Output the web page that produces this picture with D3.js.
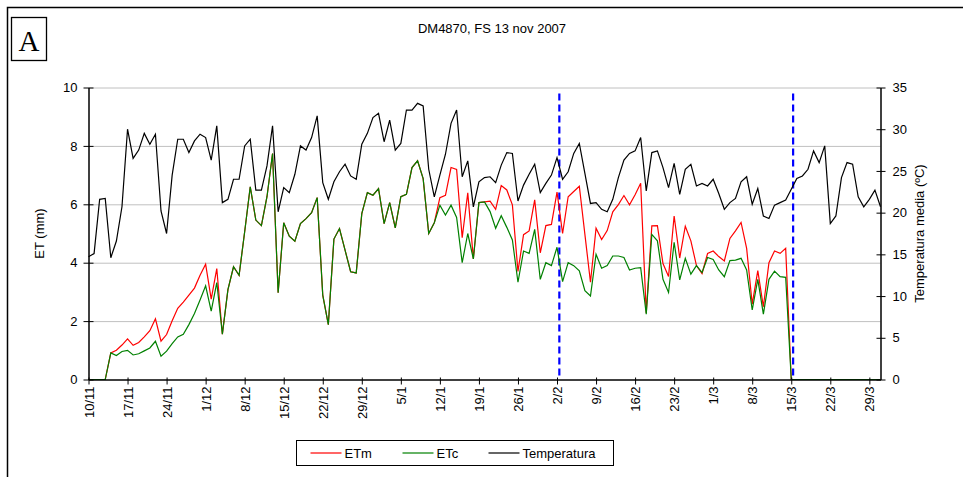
<html><head>
  <script src="https://d3js.org/d3.v7.min.js"></script>
  <style>
    body { margin: 0; background: #fff; }
    text { font-family: 'Liberation Sans', Arial, sans-serif; }
    .gridlines line { stroke: #c0c0c0; }
    .gridlines path { display: none; }
  </style>
</head>
<body>
  <script>
    // first day of the series, one value per day
    const startDate = new Date(Date.UTC(2007, 10, 10))
    const endDate = new Date(Date.UTC(2008, 2, 31))

    // ETm (mm)
    const etm = [0, 0, 0, 0, 0.91, 1.0, 1.18, 1.39, 1.17, 1.27, 1.46, 1.67, 2.08, 1.31, 1.54, 2.01, 2.44, 2.65, 2.89, 3.13,
      3.57, 3.95, 2.75, 3.80, 1.55, 3.08, 3.86, 3.57, 5.06, 6.60, 5.46, 5.27, 6.26, 7.74, 2.97, 5.37, 4.91, 4.74, 5.34, 5.51,
      5.71, 6.23, 2.89, 1.88, 4.81, 5.17, 4.43, 3.69, 3.65, 5.68, 6.40, 6.31, 6.54, 5.34, 6.06, 5.19, 6.26, 6.34, 7.26, 7.49,
      6.88, 5.00, 5.37, 6.23, 6.31, 7.26, 7.19, 4.86, 6.39, 4.13, 6.06, 6.08, 6.11, 5.83, 6.64, 6.49, 5.98, 3.70, 4.96, 5.09,
      6.15, 4.34, 5.27, 5.31, 6.42, 5.00, 6.26, 6.44, 6.62, 4.97, 3.33, 5.18, 4.79, 5.10, 5.74, 5.99, 6.30, 5.98, 6.33, 6.72,
      2.28, 5.26, 5.27, 3.97, 3.53, 5.60, 4.16, 5.25, 4.75, 3.90, 3.63, 4.32, 4.40, 4.21, 4.06, 4.83, 5.09, 5.38, 4.49, 2.58,
      3.73, 2.49, 4.00, 4.40, 4.32, 4.49, 0, 0, 0, 0, 0, 0, 0, 0, 0, 0, 0, 0, 0, 0, 0, 0, 0]

    // ETc (mm)
    const etc = [0, 0, 0, 0, 0.91, 0.82, 0.96, 1.0, 0.84, 0.88, 0.98, 1.08, 1.31, 0.80, 0.97, 1.23, 1.46, 1.55, 1.88, 2.26,
      2.72, 3.21, 2.34, 3.32, 1.55, 3.08, 3.86, 3.57, 5.06, 6.60, 5.46, 5.27, 6.26, 7.74, 2.97, 5.37, 4.91, 4.74, 5.34, 5.51,
      5.71, 6.23, 2.89, 1.88, 4.81, 5.17, 4.43, 3.69, 3.65, 5.68, 6.40, 6.31, 6.54, 5.34, 6.06, 5.19, 6.26, 6.34, 7.26, 7.49,
      6.88, 5.00, 5.37, 5.97, 5.63, 5.97, 5.55, 4.00, 5.00, 4.13, 6.06, 6.08, 5.75, 5.18, 5.61, 5.21, 4.78, 3.33, 4.40, 4.32,
      5.14, 3.43, 4.00, 3.90, 4.53, 3.35, 4.00, 3.90, 3.72, 3.04, 2.86, 4.29, 3.81, 3.90, 4.23, 4.23, 4.18, 3.75, 3.81, 3.83,
      2.24, 4.97, 4.75, 3.43, 2.98, 4.70, 3.41, 4.15, 3.61, 3.90, 3.66, 4.18, 4.11, 3.75, 3.52, 4.07, 4.09, 4.15, 3.75, 2.38,
      3.43, 2.24, 3.43, 3.71, 3.52, 3.50, 0, 0, 0, 0, 0, 0, 0, 0, 0, 0, 0, 0, 0, 0, 0, 0, 0]

    // Temperatura media (ºC)
    const temp = [14.7, 15.1, 21.6, 21.7, 14.6, 16.6, 20.7, 30.0, 26.5, 27.5, 29.5, 28.2, 29.4, 20.2, 17.5, 24.5, 28.8, 28.8, 27.2, 28.6,
      29.4, 29.0, 26.3, 30.4, 21.2, 21.6, 24.0, 24.0, 28.0, 28.8, 22.7, 22.7, 25.6, 30.4, 20.1, 23.0, 22.4, 24.6, 28.0, 27.5,
      29.0, 31.6, 23.6, 21.6, 23.7, 24.9, 25.8, 24.4, 24.0, 28.2, 29.5, 31.4, 31.9, 28.5, 31.1, 27.5, 28.3, 32.3, 32.3, 33.1,
      32.8, 25.2, 21.9, 24.5, 27.0, 30.7, 32.3, 24.3, 26.2, 20.7, 23.7, 24.2, 24.3, 23.6, 25.7, 27.2, 27.1, 21.4, 23.3, 24.6,
      25.8, 22.4, 23.5, 24.5, 26.6, 24.0, 24.9, 27.1, 28.3, 24.7, 21.1, 21.2, 20.4, 20.1, 21.6, 24.2, 26.3, 27.1, 27.4, 29.0,
      22.6, 27.2, 27.4, 25.4, 23.0, 25.9, 22.2, 25.2, 25.8, 23.2, 23.5, 23.2, 24.0, 22.3, 20.4, 21.2, 21.7, 23.7, 24.3, 21.0,
      22.9, 19.6, 19.3, 20.9, 21.2, 21.5, 22.8, 24.1, 24.4, 25.2, 27.4, 26.0, 28.0, 18.7, 19.6, 24.2, 26.0, 25.8, 21.9, 20.7,
      21.6, 22.7, 20.7]

    // dates of the two dashed markers
    const markerDates = [new Date(Date.UTC(2008, 1, 2, 10)), new Date(Date.UTC(2008, 2, 15, 8))]

    const etTicks = [0, 2, 4, 6, 8, 10]
    const tempTicks = [0, 5, 10, 15, 20, 25, 30, 35]

    const series = [
      {name: "ETm", values: etm, color: "#ff0000", axis: "left"},
      {name: "ETc", values: etc, color: "#008000", axis: "left"},
      {name: "Temperatura", values: temp, color: "#000000", axis: "right"}
    ]

    //Create SVG
    const svg = d3.select("body")
                  .append("svg")
                  .attr("width", 963)
                  .attr("height", 477)

    // outer frame
    svg.append("rect")
       .attr("x", 7.5).attr("y", 7.5)
       .attr("width", 1000).attr("height", 500)
       .style("fill", "none").style("stroke", "#000").style("stroke-width", 1.5)

    // "A" box
    svg.append("rect")
       .attr("x", 11.5).attr("y", 17.5)
       .attr("width", 35).attr("height", 43)
       .style("fill", "none").style("stroke", "#000").style("stroke-width", 1.3)
    svg.append("text")
       .text("A")
       .attr("x", 29).attr("y", 51)
       .attr("text-anchor", "middle")
       .style("font-family", "'Liberation Serif', 'Times New Roman', serif")
       .style("font-size", "29px")

    // title
    svg.append("text")
       .text("DM4870, FS 13 nov 2007")
       .attr("x", 492).attr("y", 33)
       .attr("text-anchor", "middle")
       .style("font-size", "13px")

    //Dimensions / Margins
    const margin = {top: 87.5, left: 88.5, right: 880.5, bottom: 379.5}
    const chartWidth = margin.right - margin.left
    const chartHeight = margin.bottom - margin.top

    const dayOf = i => d3.utcDay.offset(startDate, i)

    const xScale = d3.scaleUtc().domain([startDate, endDate]).range([0, chartWidth])
    const etScale = d3.scaleLinear().domain([0, 10]).range([chartHeight, 0])
    const tempScale = d3.scaleLinear().domain([0, 35]).range([chartHeight, 0])

    const chart = svg.append("g")
                     .attr("transform", `translate(${margin.left},${margin.top})`)

    // gridlines
    chart.append("g").attr("class", "gridlines")
         .call(d3.axisLeft(etScale).tickValues(etTicks.slice(1)).tickSize(-chartWidth).tickFormat(""))

    // dashed markers
    chart.selectAll("line.marker").data(markerDates)
         .join("line").attr("class", "marker")
         .attr("x1", d => xScale(d)).attr("x2", d => xScale(d))
         .attr("y1", 6).attr("y2", chartHeight)
         .style("stroke", "#0000ff").style("stroke-width", 2.2)
         .style("stroke-dasharray", "7,4")

    // series lines
    series.forEach(s => {
      const yScale = s.axis == "left" ? etScale : tempScale
      const line = d3.line().x((d, i) => xScale(dayOf(i))).y(d => yScale(d))
      chart.append("path")
           .datum(s.values)
           .attr("d", line)
           .style("fill", "none")
           .style("stroke", s.color)
           .style("stroke-width", 1.2)
    })

    // axes
    const weekTicks = d3.utcDay.range(startDate, d3.utcDay.offset(endDate, 1), 7)
    const bottomAxis = d3.axisBottom(xScale).tickValues(weekTicks)
                         .tickSizeInner(5).tickSizeOuter(0)
                         .tickFormat(d3.utcFormat("%-d/%-m"))
    const xAxis = chart.append("g").attr("class", "x axis")
                       .attr("transform", `translate(0,${chartHeight})`)
                       .call(bottomAxis)
    xAxis.selectAll("text")
         .attr("transform", "rotate(-90)")
         .attr("x", -7).attr("y", 0).attr("dy", "0.35em")
         .attr("text-anchor", "end")
         .style("font-size", "13px")

    const leftAxis = chart.append("g").attr("class", "y axis")
                          .call(d3.axisLeft(etScale).tickValues(etTicks).tickSizeInner(5).tickSizeOuter(0).tickPadding(6))
    leftAxis.selectAll("text").style("font-size", "13px")
    leftAxis.selectAll(".tick line").attr("x2", 5).attr("x1", -5)

    const rightAxis = chart.append("g").attr("class", "y axis")
                           .attr("transform", `translate(${chartWidth},0)`)
                           .call(d3.axisRight(tempScale).tickValues(tempTicks).tickSizeInner(5).tickSizeOuter(0).tickPadding(7))
    rightAxis.selectAll("text").style("font-size", "13px")
    rightAxis.selectAll(".tick line").attr("x1", -4).attr("x2", 5)

    xAxis.selectAll(".tick line").attr("y1", -2)
    svg.selectAll(".axis path").style("stroke", "#000").style("stroke-width", 1.5)

    // axis titles
    svg.append("text")
       .text("ET (mm)")
       .attr("transform", `translate(44,${margin.top + chartHeight / 2}) rotate(-90)`)
       .attr("text-anchor", "middle")
       .style("font-size", "13px")
    svg.append("text")
       .text("Temperatura media (ºC)")
       .attr("transform", `translate(924,${margin.top + chartHeight / 2}) rotate(-90)`)
       .attr("text-anchor", "middle")
       .style("font-size", "13px")

    // legend
    const legend = svg.append("g").attr("transform", "translate(296.5,440.5)")
    legend.append("rect")
          .attr("width", 317).attr("height", 25)
          .style("fill", "#fff").style("stroke", "#000").style("stroke-width", 1)
    const legendX = [14, 106, 192]
    series.forEach((s, i) => {
      legend.append("line")
            .attr("x1", legendX[i]).attr("x2", legendX[i] + 31)
            .attr("y1", 12.5).attr("y2", 12.5)
            .style("stroke", s.color).style("stroke-width", 1.2)
      legend.append("text")
            .text(s.name)
            .attr("x", legendX[i] + 34).attr("y", 17)
            .style("font-size", "13px")
    })
  </script>
</body></html>
